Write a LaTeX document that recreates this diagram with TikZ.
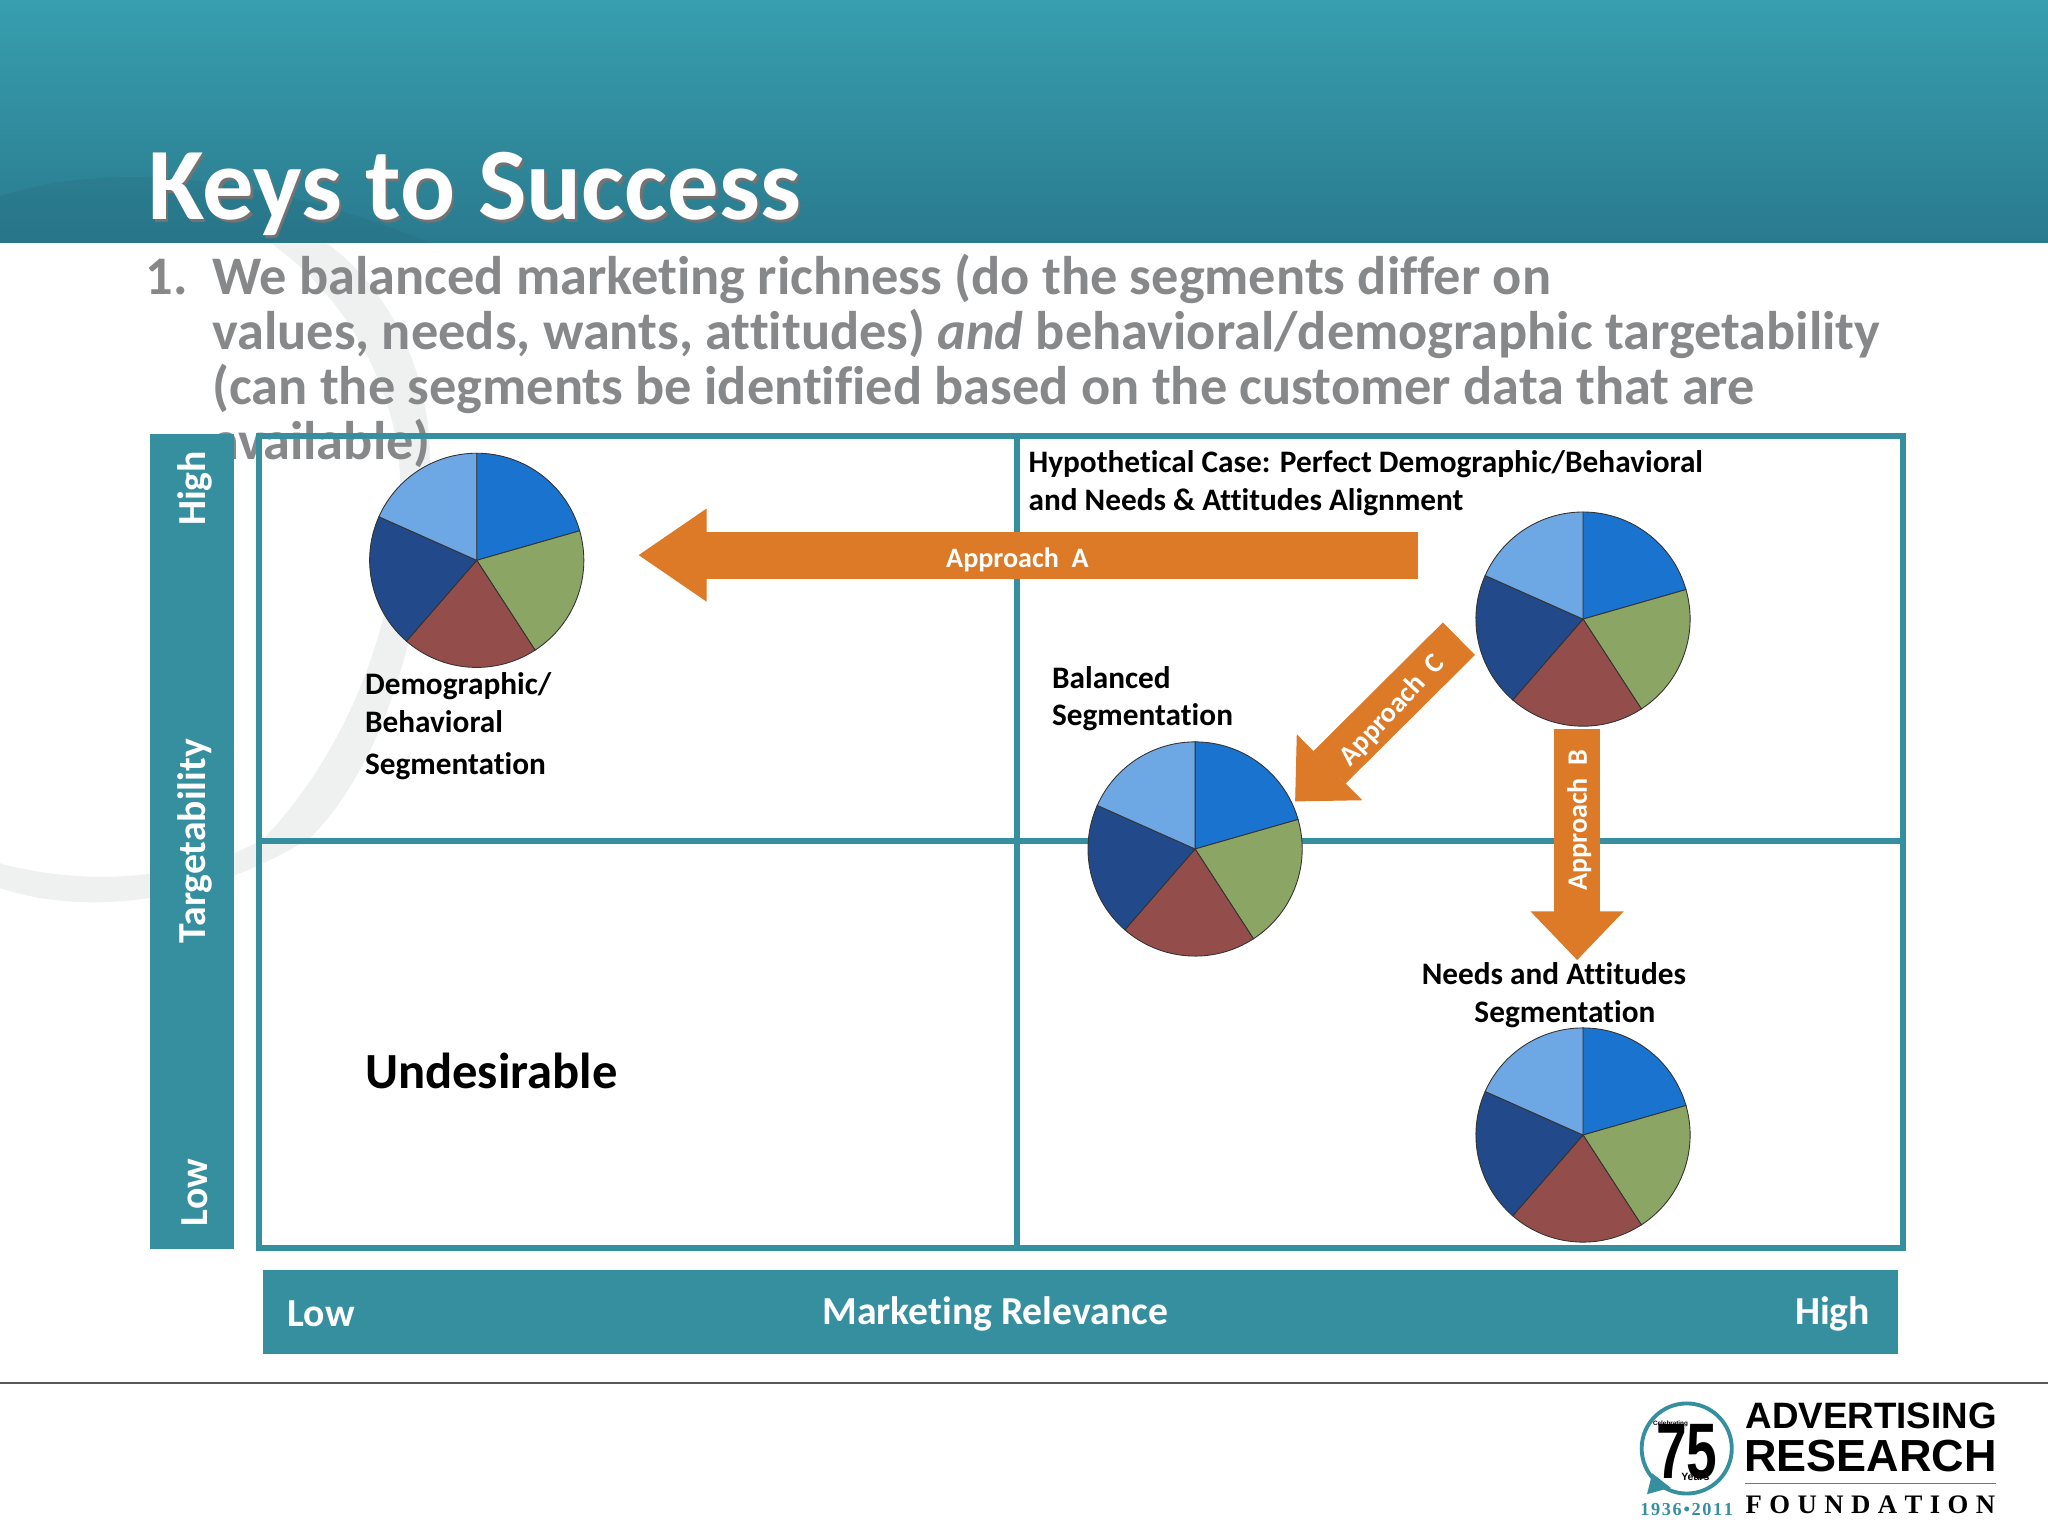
\documentclass[tikz,border=0pt]{standalone}
\usepackage{fontspec}
\usepackage{graphicx}
\setmainfont{Carlito}[Ligatures=NoCommon]
\newfontfamily\logosans{Liberation Sans}
\newfontfamily\logoserif{Liberation Serif}
\usetikzlibrary{arrows.meta}
\definecolor{barteal}{HTML}{368F9F}
\definecolor{headtop}{HTML}{379FAF}
\definecolor{headbot}{HTML}{2A7A8E}
\definecolor{bodygray}{HTML}{87888A}
\definecolor{swoosh}{HTML}{EFF0F0}
\definecolor{apporange}{HTML}{DC7A28}
\definecolor{sliceblue}{HTML}{1A73CE}
\definecolor{slicegreen}{HTML}{8BA564}
\definecolor{slicered}{HTML}{934E4B}
\definecolor{slicenavy}{HTML}{224A8A}
\definecolor{slicesky}{HTML}{6DA7E4}
\newcommand{\fsize}[1]{\fontsize{#1}{#1}\selectfont}
\tikzset{
    frameline/.style={draw=barteal,line width=1.8pt},
    barbox/.style={fill=barteal},
    slice/.style={draw=black!80,line width=0.25pt},
    blockarrow/.style n args={3}{draw=apporange,line width=#1,
        -{Triangle[width=#2,length=#3,sharp,fill=apporange,line width=0.3pt]}},
    arrowlabel/.style={inner sep=0,text=white,font=\fsize{8}\bfseries},
    caselabel/.style={inner sep=0,anchor=west,align=left,font=\fontsize{8.9}{10.75}\selectfont\bfseries},
    barlabel/.style={inner sep=0,text=white,font=\fsize{11.3}\bfseries},
    bodyline/.style={inner sep=0,anchor=base west,text=bodygray,font=\fsize{15.47}\bfseries},
}
% one pie chart, named by its centre
\newcommand{\piechart}[3]{
    \coordinate (#1) at (#2,#3);
    \begin{scope}[shift={(#1)},y=0.013061cm]
    \filldraw[slice,fill=sliceblue] (0,0) -- (90:82) arc (90:16:82) -- cycle;
    \filldraw[slice,fill=slicegreen] (0,0) -- (16:82) arc (16:-57:82) -- cycle;
    \filldraw[slice,fill=slicered] (0,0) -- (-57:82) arc (-57:-131:82) -- cycle;
    \filldraw[slice,fill=slicenavy] (0,0) -- (-131:82) arc (229:156:82) -- cycle;
    \filldraw[slice,fill=slicesky] (0,0) -- (156:82) arc (156:90:82) -- cycle;
    \end{scope}
}
\begin{document}
\begin{tikzpicture}[x=0.013061cm,y=-0.013061cm]
    \useasboundingbox (0,0) rectangle (1568,1176);

    % background swoosh
    \fill[swoosh] (207,186) .. controls (270,230) and (310,310) .. (306,380)
        .. controls (305,470) and (270,570) .. (202,642)
        .. controls (150,672) and (70,680) .. (0,661) -- (0,680)
        .. controls (60,700) and (150,695) .. (237,642)
        .. controls (300,580) and (333,450) .. (329,340)
        .. controls (325,270) and (290,215) .. (250,186) -- cycle;

    % header band
    \shade[top color=headtop,bottom color=headbot] (0,0) rectangle (1568,186);
    \fill[headbot!85!black,opacity=0.25] (0,186) -- (0,150) .. controls (80,125) and (190,130) .. (330,186) -- cycle;
    \node[inner sep=0,anchor=base west,text=black!55,font=\fsize{29.2}\bfseries] (titleshadow) at (115,170) {Keys to Success};
    \node[inner sep=0,anchor=base west,text=white,font=\fsize{29.2}\bfseries] (title) at (113,168) {Keys to Success};

    % body text
    \node[bodyline] (num) at (111,225.5) {1.};
    \node[bodyline] (lineone) at (162,225.5) {We balanced marketing richness (do the segments differ on};
    \node[bodyline] (linetwo) at (162,267.5) {values, needs, wants, attitudes) \textit{and} behavioral/demographic targetability};
    \node[bodyline] (linethree) at (162,309.5) {(can the segments be identified based on the customer data that are};
    \node[bodyline] (linefour) at (162,351.5) {available)};

    % grid
    \fill[barbox] (115,332) rectangle (179,956);
    \fill[barbox] (201.5,972.5) rectangle (1453,1036.5);
    \draw[frameline] (198.5,334) rectangle (1457,955.5);
    \draw[frameline] (778.5,334) -- (778.5,955.5);
    \draw[frameline] (198.5,644) -- (1457,644);

    % axis labels
    \node[barlabel,rotate=90] (yhigh) at (149.5,374) {High};
    \node[barlabel,rotate=90] (ymid) at (149,644) {Targetability};
    \node[barlabel,rotate=90] (ylow) at (149.5,913) {Low};
    \node[barlabel] (xlow) at (246,1006) {Low};
    \node[barlabel] (xmid) at (762,1006) {Marketing Relevance};
    \node[barlabel] (xhigh) at (1403,1006) {High};

    % pies
    \piechart{piedemo}{365}{429}
    \piechart{piehyp}{1212}{474}
    \piechart{piebal}{915}{650}
    \piechart{pieneeds}{1212}{869}

    % block arrows
    \coordinate (startA) at (1086,425);
    \coordinate (endA) at (489,425);
    \coordinate (startB) at (1207.5,558);
    \coordinate (endB) at (1207.5,735);
    \coordinate (startC) at (1117,489);
    \coordinate (endC) at (991.6,613.6);
    \draw[blockarrow={13.4pt}{26.4pt}{19.3pt}] (startA) -- (endA);
    \draw[blockarrow={13pt}{26.4pt}{13.8pt}] (startB) -- (endB);
    \draw[blockarrow={13pt}{26.4pt}{13.8pt}] (startC) -- (endC);
    \node[arrowlabel] (labelA) at (779,429) {Approach\ \ A};
    \node[arrowlabel,rotate=90] (labelB) at (1209,628) {Approach\ \ B};
    \node[arrowlabel,rotate=47] (labelC) at (1066,544) {Approach\ \ C};

    % case labels
    \node[caselabel] (casehyp) at (787,370) {Hypothetical Case: Perfect Demographic/Behavioral\\and Needs \& Attitudes Alignment};
    \node[caselabel] (casedemo) at (279,556) {Demographic/\\Behavioral\\[1pt]Segmentation};
    \node[caselabel] (casebal) at (805,535) {Balanced\\Segmentation};
    \node[caselabel] (caseneeds) at (1088,762) {Needs and Attitudes\\\hspace*{15pt}Segmentation};
    \node[inner sep=0,anchor=west,font=\fsize{14.4}\bfseries] (undesirable) at (279,820) {Undesirable};

    % footer rule
    \draw[black!65,line width=0.4pt] (0,1059) -- (1568,1059);

    % logo
    \draw[barteal,line width=1.1pt] (1291.4,1109) circle [radius=34.5];
    \fill[barteal] (1261,1144) -- (1265,1128) -- (1279,1139) -- cycle;
    \node[inner sep=0,font=\logosans\bfseries\fsize{22.4}] (seventyfive) at (1291.5,1111.5) {\scalebox{0.7}[1]{75}};
    \node[inner sep=0,font=\logosans\bfseries\fsize{1.8}] (celebrating) at (1279,1090) {Celebrating};
    \node[inner sep=0,font=\logosans\bfseries\fsize{3}] (years) at (1298,1131) {Years};
    \node[inner sep=0,text=barteal,font=\logoserif\bfseries\fsize{5.2}] (yearspan) at (1291.4,1156)
        {\makebox[26.4pt][s]{1\hfill 9\hfill 3\hfill 6\hfill •\hfill 2\hfill 0\hfill 1\hfill 1}};
    \node[inner sep=0,anchor=base west,font=\logosans\bfseries\fsize{10.45}] (advertising) at (1336,1093.6) {ADVERTISING};
    \node[inner sep=0,anchor=base west,font=\logosans\bfseries\fsize{12.8}] (research) at (1335,1126.8) {RESEARCH};
    \draw[barteal,line width=0.5pt] (1336,1135.8) -- (1528,1135.8);
    \node[inner sep=0,anchor=base west,font=\logoserif\bfseries\fsize{7.6}] (foundation) at (1336,1159)
        {\makebox[71pt][s]{F\hfill O\hfill U\hfill N\hfill D\hfill A\hfill T\hfill I\hfill O\hfill N}};
\end{tikzpicture}
\end{document}
